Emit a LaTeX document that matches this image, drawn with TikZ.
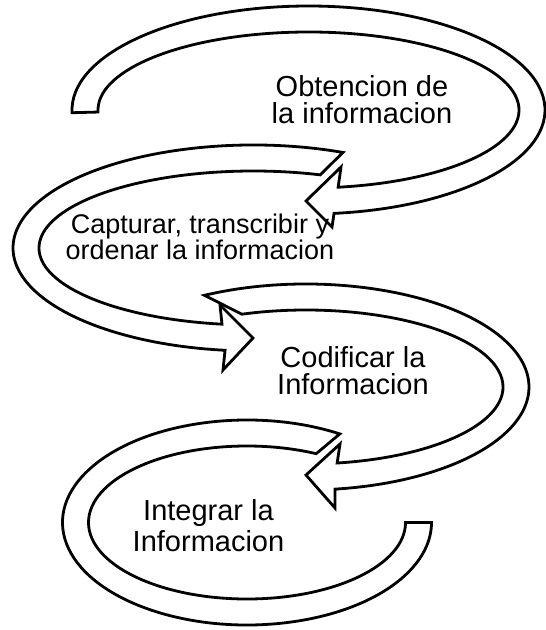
\documentclass[tikz,border=0pt]{standalone}
\usepackage{fontspec}
\setmainfont{Liberation Sans}
\usetikzlibrary{calc}
\begin{document}
\begin{tikzpicture}[x=1bp,y=-1bp]
\tikzset{
  arrowband/.style={draw=black, fill=white, line width=2.8bp, line join=miter, miter limit=4},
  lbl/.style={align=center, anchor=base, inner sep=0pt}
}
\useasboundingbox (0,0) rectangle (546,630);
% ellipse centres
\coordinate (c1) at (308.5,110);
\coordinate (c2) at (253.3,248);
\coordinate (c3) at (306,387);
\coordinate (c4) at (247,522.5);
% arrow 1 (top)
\draw[arrowband] ([shift={(c1)}]178.5:236.5 and 104)
  arc[start angle=178.5, end angle=443.8, x radius=236.5, y radius=104]
  -- (332,227) -- (306,201) -- (341,167)
  -- ([shift={(c1)}]441.9:210.5 and 78)
  arc[start angle=441.9, end angle=178.5, x radius=210.5, y radius=78] -- cycle;
% arrow 2
\draw[arrowband] ([shift={(c2)}]291.9:240.3 and 103)
  arc[start angle=291.9, end angle=96.75, x radius=240.3, y radius=103]
  -- (223,370) -- (253,338) -- (220,305)
  -- ([shift={(c2)}]98.4:214.3 and 77)
  arc[start angle=98.4, end angle=288.2, x radius=214.3, y radius=77] -- cycle;
% arrow 3
\draw[arrowband] ([shift={(c3)}]242.9:223 and 103)
  arc[start angle=242.9, end angle=442.5, x radius=223, y radius=103]
  -- (335,508) -- (306,475) -- (340,444)
  -- ([shift={(c3)}]440.9:197 and 77)
  arc[start angle=440.9, end angle=251, x radius=197, y radius=77] -- cycle;
% arrow 4 (bottom, no head)
\draw[arrowband] ([shift={(c4)}]300.2:184.5 and 102.5)
  arc[start angle=300.2, end angle=0, x radius=184.5, y radius=102.5]
  -- ([shift={(c4)}]0:158.5 and 76.5)
  arc[start angle=0, end angle=295.9, x radius=158.5, y radius=76.5] -- cycle;
% labels (anchor = baseline of the last line)
\node[lbl, font=\fontsize{29bp}{27bp}\selectfont] (t1) at (362,124) {Obtencion de\\la informacion};
\node[lbl, font=\fontsize{27bp}{26bp}\selectfont] (t2) at (200,259) {Capturar, transcribir y\\ordenar la informacion};
\node[lbl, font=\fontsize{29bp}{27bp}\selectfont] (t3) at (353,394) {Codificar la\\Informacion};
\node[lbl, font=\fontsize{29bp}{31bp}\selectfont] (t4) at (208.5,551) {Integrar la\\Informacion};
\end{tikzpicture}
\end{document}
